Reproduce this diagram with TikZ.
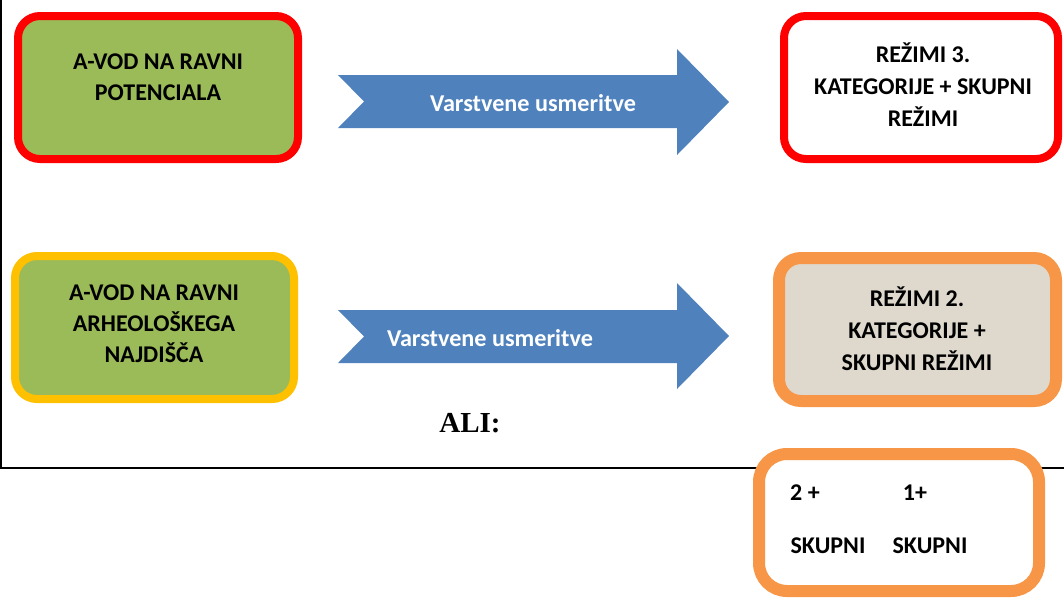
\documentclass[tikz,border=0pt]{standalone}
\usepackage{fontspec}
\setmainfont{Carlito}
\newfontfamily\serifb{Liberation Serif}
\definecolor{boxgreen}{HTML}{9BBB59}
\definecolor{boxred}{HTML}{FF0000}
\definecolor{boxgold}{HTML}{FFC000}
\definecolor{boxorange}{HTML}{F79646}
\definecolor{arrowblue}{HTML}{4F81BD}
\definecolor{beige}{HTML}{DFD9CD}
\tikzset{
  box/.style={rounded corners=22pt, inner sep=0pt, line width=8pt},
  lbl/.style={font=\bfseries\fontsize{24}{31}\selectfont, align=center, inner sep=0pt, text=black},
  arrtext/.style={font=\bfseries\fontsize{24.2}{28}\selectfont, text=white, inner sep=0pt},
  blockarrow/.style={fill=arrowblue},
}
\begin{document}
\begin{tikzpicture}[x=1pt,y=-1pt]
\useasboundingbox (0,0) rectangle (1064,598);
% frame
\coordinate (ftop) at (1,0);
\coordinate (fcorner) at (1,468);
\coordinate (fright) at (1064,468);
\draw[line width=2pt] (ftop) -- (fcorner) -- (fright);
% boxes
\node[box, draw=boxred, fill=boxgreen, minimum width=280pt, minimum height=143pt] (b1) at (158,87.5) {};
\node[lbl] (t1) at (158,77) {A-VOD NA RAVNI\\POTENCIALA};
\node[box, draw=boxred, fill=white, minimum width=274pt, minimum height=143pt] (b2) at (921,87.5) {};
\node[lbl, font=\bfseries\fontsize{24}{32}\selectfont] (t2) at (923,84.5) {REŽIMI 3.\\KATEGORIJE + SKUPNI\\REŽIMI};
\node[box, draw=boxgold, fill=boxgreen, minimum width=279pt, minimum height=143pt] (b3) at (154.5,327.5) {};
\node[lbl] (t3) at (154,324) {A-VOD NA RAVNI\\ARHEOLOŠKEGA\\NAJDIŠČA};
\node[box, draw=boxorange, fill=beige, line width=12pt, minimum width=277pt, minimum height=143pt] (b4) at (917.5,329.5) {};
\node[lbl, font=\bfseries\fontsize{24}{32}\selectfont] (t4) at (917,329) {REŽIMI 2.\\KATEGORIJE +\\SKUPNI REŽIMI};
\node[box, draw=boxorange, fill=white, line width=12pt, rounded corners=28pt, minimum width=280pt, minimum height=137pt] (b5) at (899,522.5) {};
\node[lbl] (t5a) at (805,493) {2 +};
\node[lbl] (t5b) at (915,493) {1+};
\node[lbl] (t5c) at (828,546) {SKUPNI};
\node[lbl] (t5d) at (930,546) {SKUPNI};
% arrows
\fill[blockarrow] (338,75) -- (677,75) -- (677,49) -- (729,102) -- (677,155) -- (677,128) -- (338,128) -- (364,101.5) -- cycle;
\node[arrtext] (a1) at (533,103) {Varstvene usmeritve};
\fill[blockarrow] (338,310) -- (677,310) -- (677,283) -- (729,336) -- (677,389) -- (677,363) -- (338,363) -- (364,336.5) -- cycle;
\node[arrtext] (a2) at (490,338) {Varstvene usmeritve};
\node[font=\serifb\bfseries\fontsize{29}{32}\selectfont, inner sep=0pt] (ali) at (470,423) {ALI:};
\end{tikzpicture}
\end{document}
